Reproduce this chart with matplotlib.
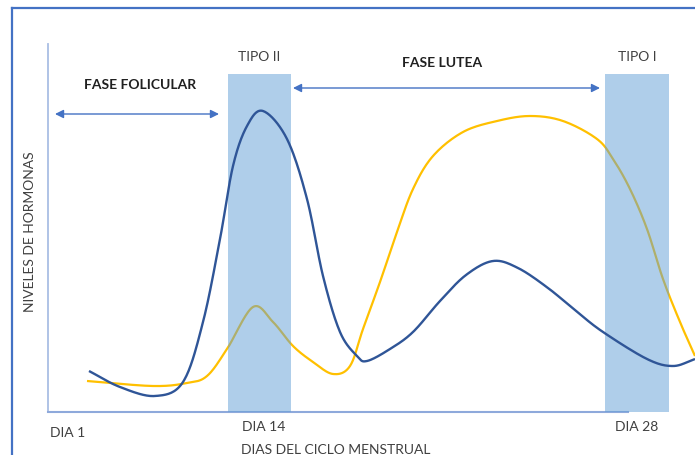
import numpy as np
import matplotlib
matplotlib.use("Agg")
import matplotlib.pyplot as plt
from matplotlib.patches import Rectangle, FancyArrowPatch

# ---- data (arbitrary units: x = cycle position, y = hormone level) ----
blue_x = [41, 72, 107, 135, 155, 172, 185, 199, 215, 239, 259, 275, 292, 309, 319,
          342, 365, 392, 418, 445, 470, 500, 528, 555, 599, 625, 647]
blue_y = [41, 25, 16, 30, 90, 173, 246, 286, 301, 273, 213, 136, 80, 56, 51,
          63, 80, 111, 137, 151, 144, 124, 101, 80, 53, 46, 53]

yellow_x = [39, 105, 139, 159, 179, 205, 225, 245, 265, 285, 302, 315, 332, 349, 365,
            385, 415, 449, 482, 515, 549, 565, 582, 599, 615, 632, 647]
yellow_y = [31, 26, 29, 36, 63, 105, 90, 66, 50, 38, 46, 83, 130, 180, 223,
            256, 280, 291, 296, 291, 273, 253, 223, 183, 133, 90, 56]

bands = [(180, 243, "TIPO II"), (557, 621, "TIPO I")]
band_top = 338
tick_labels = [("DIA 1", 20, -20), ("DIA 14", 216, -14), ("DIA 28", 589, -14)]
phases = [("FASE FOLICULAR", 7, 171, 298, 92, 328), ("FASE LUTEA", 245, 552, 324, 394, 350)]
xlabel = "DIAS DEL CICLO MENSTRUAL"
ylabel = "NIVELES DE HORMONAS"


def catmull_rom(xs, ys, n=20):
    P = np.column_stack([xs, ys]).astype(float)
    P = np.vstack([P[0] * 2 - P[1], P, P[-1] * 2 - P[-2]])
    out = []
    for i in range(1, len(P) - 2):
        p0, p1, p2, p3 = P[i - 1], P[i], P[i + 1], P[i + 2]
        t = np.linspace(0, 1, n, endpoint=False)[:, None]
        seg = 0.5 * ((2 * p1) + (-p0 + p2) * t + (2 * p0 - 5 * p1 + 4 * p2 - p3) * t ** 2
                     + (-p0 + 3 * p1 - 3 * p2 + p3) * t ** 3)
        out.append(seg)
    out.append(P[-2][None, :])
    a = np.vstack(out)
    return a[:, 0], a[:, 1]


W, H = 695, 456
fig = plt.figure(figsize=(W / 100, H / 100), dpi=100)
plt.rcParams['font.family'] = ['Lato', 'DejaVu Sans']

# outer frame
fig.add_artist(plt.Line2D([12 / W, 12 / W], [0, 1 - 9 / H], transform=fig.transFigure,
                          color="#4472C4", lw=1.6))
fig.add_artist(plt.Line2D([12 / W, 1], [1 - 9 / H, 1 - 9 / H], transform=fig.transFigure,
                          color="#4472C4", lw=1.6))

left, bottom = 48 / W, (H - 413) / H
ax = fig.add_axes([left, bottom, 1 - left, (413 - 45) / H])
ax.set_xlim(0, 647)
ax.set_ylim(0, 368)
ax.axis("off")

# axis lines
ax.plot([0, 0], [0, 368], color="#A9BEE4", lw=1.3, clip_on=False, zorder=1)
ax.plot([0, 580], [0, 0], color="#8EA9DB", lw=1.5, clip_on=False, zorder=1)

bx, by = catmull_rom(blue_x, blue_y)
yx, yy = catmull_rom(yellow_x, yellow_y)
ax.plot(bx, by, color="#2F5597", lw=1.7, zorder=5, clip_on=False, solid_capstyle="butt")
ax.plot(yx, yy, color="#FFC000", lw=1.6, zorder=2, clip_on=False, solid_capstyle="butt")

tc = "#404040"
for x0, x1, lab in bands:
    ax.add_patch(Rectangle((x0, 0), x1 - x0, band_top, facecolor="#619FD7", alpha=0.5,
                           edgecolor="none", zorder=3, clip_on=False))
    ax.text((x0 + x1) / 2, 356, lab, ha="center", va="center", fontsize=10, color=tc)

for lab, xa, xb, ya, xt, yt in phases:
    ax.add_patch(FancyArrowPatch((xa, ya), (xb, ya), arrowstyle="<|-|>,head_length=5,head_width=2.5",
                                 color="#4472C4", lw=1.0, clip_on=False, zorder=4,
                                 shrinkA=0, shrinkB=0))
    ax.text(xt, yt, lab, ha="center", va="center", fontsize=10, fontweight="bold", color="#202020")

for lab, x, y in tick_labels:
    ax.text(x, y, lab, ha="center", va="center", fontsize=10, color=tc, clip_on=False)

ax.text(288, -37, xlabel, ha="center", va="center", fontsize=10, color=tc, clip_on=False)
ax.text(-18, 181, ylabel, ha="center", va="center", fontsize=10, color=tc, rotation=90,
        clip_on=False)

fig.savefig("out.png", dpi=100)
